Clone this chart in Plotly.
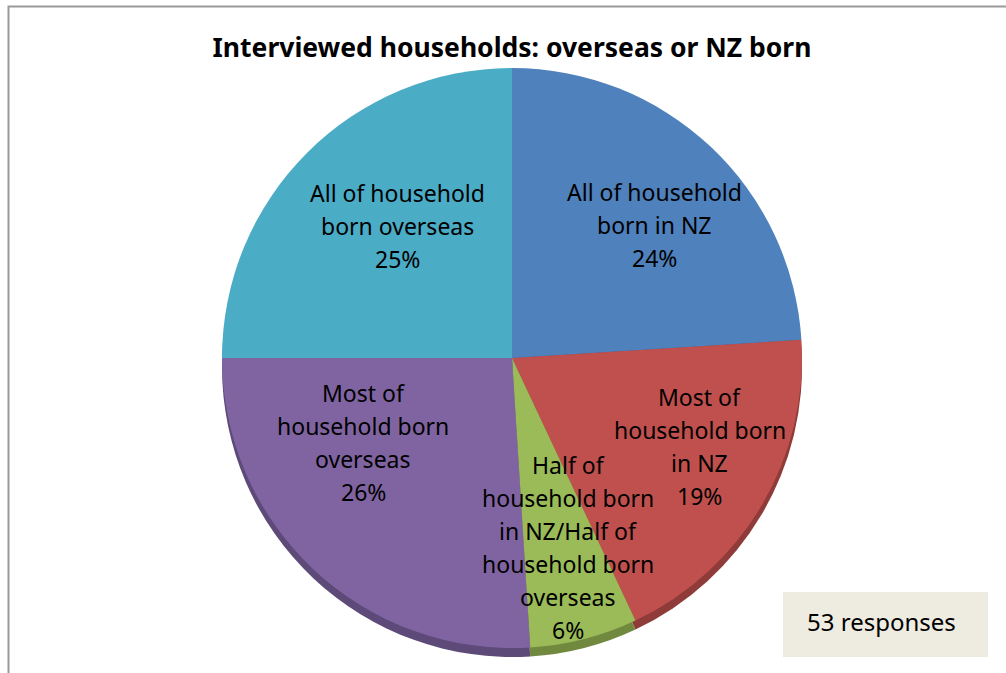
import math
import plotly.graph_objects as go

# ---- data ----
categories = [
    "All of household born in NZ",
    "Most of household born in NZ",
    "Half of household born in NZ/Half of household born overseas",
    "Most of household born overseas",
    "All of household born overseas",
]
percents = [24, 19, 6, 26, 25]
label_lines = [
    ["All of household", "born in NZ"],
    ["Most of", "household born", "in NZ"],
    ["Half of", "household born", "in NZ/Half of", "household born", "overseas"],
    ["Most of", "household born", "overseas"],
    ["All of household", "born overseas"],
]
title_text = "Interviewed households: overseas or NZ born"
note_text = "53 responses"

# ---- style ----
colors = ["#4F81BD", "#C0504D", "#9BBB59", "#8064A2", "#4BACC6"]
dark_colors = ["#3A6190", "#8E3B39", "#71893F", "#5D4A78", "#2F8399"]
label_r = [0.671, 0.717, 0.68, 0.591, 0.603]       # radial fraction for label
label_dtheta = [3.7, -5.3, -2.1, 17.1, 3.9]        # angular nudge (deg)

W, H = 1006, 673
cx, cy, R = 512, 358, 290
depth = 9
LINE = 33
FONT = "Noto Sans"

def px_x(x):
    return x / W

def px_y(y):
    return 1 - y / H

dom_x = [px_x(cx - R), px_x(cx + R)]
dom_y = [px_y(cy + R), px_y(cy - R)]
dom_y_depth = [px_y(cy + R + depth), px_y(cy - R + depth)]

fig = go.Figure()
# depth layer (3D edge)
fig.add_trace(go.Pie(
    labels=categories, values=percents, sort=False, direction="clockwise",
    rotation=0, marker=dict(colors=dark_colors, line=dict(width=0)),
    textinfo="none", hoverinfo="skip", showlegend=False,
    domain=dict(x=dom_x, y=dom_y_depth),
))
# top face
fig.add_trace(go.Pie(
    labels=categories, values=percents, sort=False, direction="clockwise",
    rotation=0, marker=dict(colors=colors, line=dict(width=0)),
    textinfo="none", showlegend=False,
    domain=dict(x=dom_x, y=dom_y),
))

total = sum(percents)
annotations = []
cum = 0
for i, v in enumerate(percents):
    frac = v / total
    mid = (cum + frac / 2) * 360 + label_dtheta[i]
    cum += frac
    th = math.radians(mid)
    lx = cx + label_r[i] * R * math.sin(th)
    ly = cy - label_r[i] * R * math.cos(th)
    lines = label_lines[i] + [f"{v}%"]
    n = len(lines)
    for j, t in enumerate(lines):
        annotations.append(dict(
            x=px_x(lx), y=px_y(ly), xref="paper", yref="paper",
            text=t, showarrow=False, xanchor="center", yanchor="middle",
            yshift=((n - 1) / 2 - j) * LINE,
            font=dict(family=FONT, size=23, color="#000000"),
        ))

# note box text
annotations.append(dict(
    x=px_x(805), y=px_y(621), xref="paper", yref="paper",
    text=note_text, showarrow=False, xanchor="left", yanchor="middle",
    font=dict(family=FONT, size=24, color="#000000"),
))

shapes = [
    # outer chart frame
    dict(type="rect", xref="paper", yref="paper",
         x0=px_x(8.5), x1=px_x(W + 20), y0=px_y(H + 20), y1=px_y(6.5),
         line=dict(color="#9A9A9A", width=2), fillcolor="rgba(0,0,0,0)",
         layer="below"),
    # note box
    dict(type="rect", xref="paper", yref="paper",
         x0=px_x(783), x1=px_x(988), y0=px_y(657), y1=px_y(592),
         line=dict(width=0), fillcolor="#EEECE1", layer="below"),
]

fig.update_layout(
    width=W, height=H,
    margin=dict(l=0, r=0, t=0, b=0),
    paper_bgcolor="white", plot_bgcolor="white",
    title=dict(text=f"<b>{title_text}</b>", x=px_x(512), xanchor="center",
               y=px_y(48), yanchor="middle",
               font=dict(family=FONT, size=26.5, color="#000000")),
    annotations=annotations,
    shapes=shapes,
    showlegend=False,
)

fig.write_html(
    "out.html",
    config={"displayModeBar": False},
    post_script="document.body.style.margin='0';document.body.style.overflow='hidden';",
)
